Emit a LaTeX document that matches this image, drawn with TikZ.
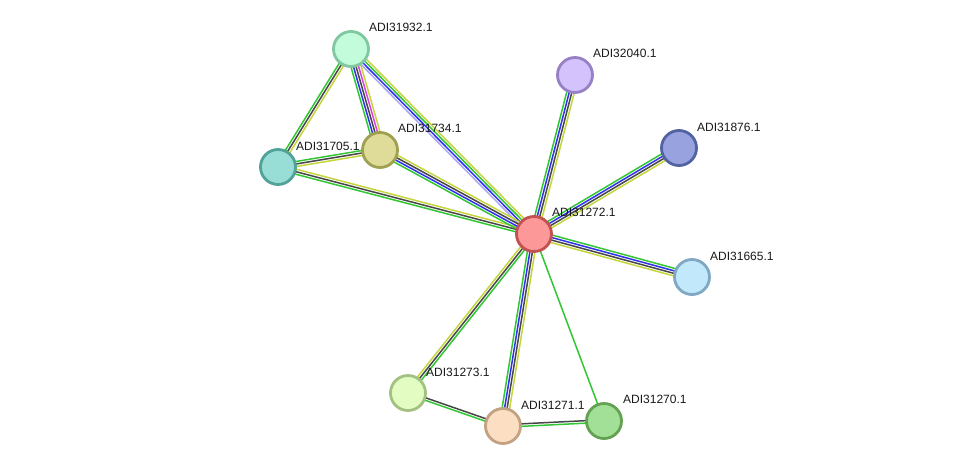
\documentclass[tikz,border=0pt]{standalone}
\usepackage{fontspec}
\setmainfont{Liberation Sans}
\usetikzlibrary{calc,backgrounds}
\definecolor{eg}{HTML}{33C633}
\definecolor{ek}{HTML}{474747}
\definecolor{eb}{HTML}{3030F0}
\definecolor{ey}{HTML}{C4D63C}
\definecolor{em}{HTML}{E040E0}
\definecolor{el}{HTML}{A8A8F4}
\definecolor{f32}{HTML}{C2FCDA}\definecolor{d32}{HTML}{80C8A0}
\definecolor{f40}{HTML}{D4C2FC}\definecolor{d40}{HTML}{9880C4}
\definecolor{f76}{HTML}{98A2DE}\definecolor{d76}{HTML}{5262A2}
\definecolor{f34}{HTML}{DEDC98}\definecolor{d34}{HTML}{A0A052}
\definecolor{f05}{HTML}{98DED6}\definecolor{d05}{HTML}{52A29A}
\definecolor{f72}{HTML}{FC9898}\definecolor{d72}{HTML}{C25252}
\definecolor{f65}{HTML}{C2E8FC}\definecolor{d65}{HTML}{80A8C2}
\definecolor{f73}{HTML}{E2FCC2}\definecolor{d73}{HTML}{A2C282}
\definecolor{f71}{HTML}{FCDEC2}\definecolor{d71}{HTML}{C2A282}
\definecolor{f70}{HTML}{A2E098}\definecolor{d70}{HTML}{62A252}
\tikzset{
  prot/.style={circle, minimum size=35pt, inner sep=0pt, line width=2.8pt},
  lab/.style={anchor=west, font=\fontsize{12}{14}\selectfont, text=black!90, inner sep=0pt},
  edge/.style={line width=1.5pt}
}
\newcommand\elink[3]{%
  \foreach \c/\o in {#3}{%
    \draw[edge,\c] ($(#1.center)!\o pt!90:(#2.center)$) -- ($(#2.center)!\o pt!-90:(#1.center)$);
  }%
}
\begin{document}
\begin{tikzpicture}[x=1pt,y=-1pt]
\useasboundingbox (0,0) rectangle (975,472);
% nodes
\node[prot, fill=f32, draw=d32] (n32) at (351,49) {};
\node[prot, fill=f40, draw=d40] (n40) at (575,75) {};
\node[prot, fill=f76, draw=d76] (n76) at (679,148) {};
\node[prot, fill=f34, draw=d34] (n34) at (380,150) {};
\node[prot, fill=f05, draw=d05] (n05) at (278,167) {};
\node[prot, fill=f72, draw=d72] (n72) at (534,234) {};
\node[prot, fill=f65, draw=d65] (n65) at (692,277) {};
\node[prot, fill=f73, draw=d73] (n73) at (408,393) {};
\node[prot, fill=f71, draw=d71] (n71) at (503,426) {};
\node[prot, fill=f70, draw=d70] (n70) at (604,421) {};
% labels
\node[lab] (t32) at (369,27) {ADI31932.1};
\node[lab] (t40) at (593,53) {ADI32040.1};
\node[lab] (t76) at (697,127) {ADI31876.1};
\node[lab] (t34) at (398,128) {ADI31734.1};
\node[lab] (t05) at (296,146) {ADI31705.1};
\node[lab] (t72) at (552,212) {ADI31272.1};
\node[lab] (t65) at (710,256) {ADI31665.1};
\node[lab] (t73) at (426,372) {ADI31273.1};
\node[lab] (t71) at (521,405) {ADI31271.1};
\node[lab] (t70) at (623,399) {ADI31270.1};
% edges
\begin{pgfonlayer}{background}
\fill[white] (0,0) rectangle (975,472);
\elink{n05}{n32}{eg/2.5, ek/0, ey/-2.5}
\elink{n34}{n32}{eg/5, eb/2.5, ek/0, em/-2.5, ey/-5}
\elink{n32}{n72}{ey/3.75, eg/1.25, eb/-1.25, el/-3.75}
\elink{n05}{n34}{eg/2.5, ek/0, ey/-2.5}
\elink{n05}{n72}{ey/2.5, ek/0, eg/-2.5}
\elink{n34}{n72}{ey/3.75, ek/1.25, eb/-1.25, eg/-3.75}
\elink{n72}{n40}{eg/3.75, eb/1.25, ek/-1.25, ey/-3.75}
\elink{n72}{n76}{eg/3.75, eb/1.25, ek/-1.25, ey/-3.75}
\elink{n72}{n65}{eg/3.75, eb/1.25, ek/-1.25, ey/-3.75}
\elink{n71}{n72}{eg/3.75, eb/1.25, ek/-1.25, ey/-3.75}
\elink{n73}{n72}{ey/2.5, ek/0, eg/-2.5}
\elink{n72}{n70}{eg/0}
\elink{n73}{n71}{ek/1.25, eg/-1.25}
\elink{n71}{n70}{ek/1.25, eg/-1.25}
\end{pgfonlayer}
\end{tikzpicture}
\end{document}
